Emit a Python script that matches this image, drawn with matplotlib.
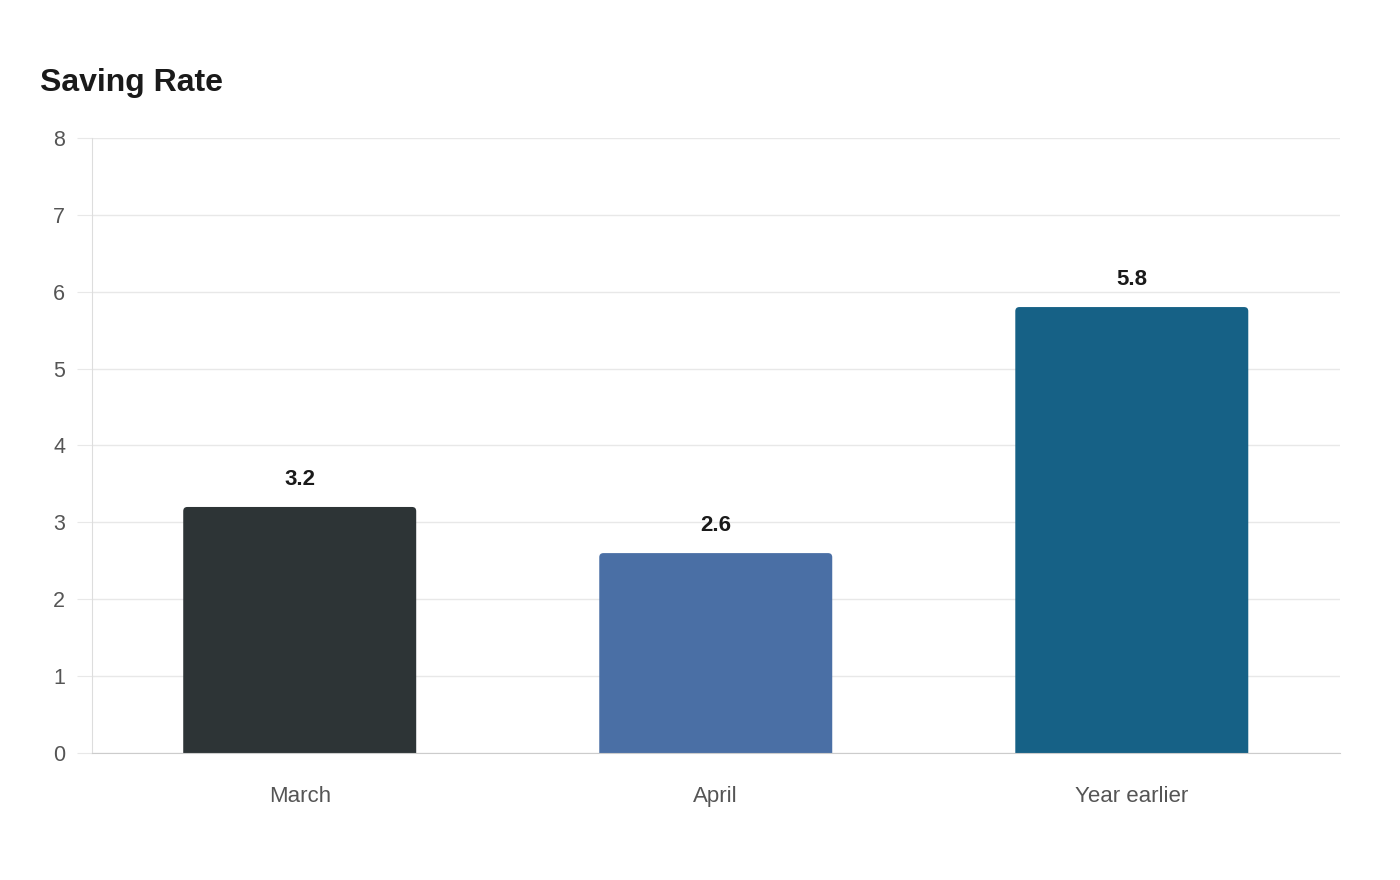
import matplotlib.pyplot as plt
from matplotlib.patches import FancyBboxPatch

plt.rcParams['font.family'] = ['Liberation Sans', 'DejaVu Sans']

categories = ['March', 'April', 'Year earlier']
values = [3.2, 2.6, 5.8]
colors = ['#2d3436', '#4a6fa5', '#166186']
yticks = [0, 1, 2, 3, 4, 5, 6, 7, 8]

fig = plt.figure(figsize=(14, 8.8), dpi=100)
ax = fig.add_axes([0.0655, 0.1443, 0.8915, 0.699])

x = range(len(categories))
bars = ax.bar(x, values, width=0.56, color=colors, zorder=3)
# swap square bars for ones with slightly rounded tops
for b in bars:
    b.set_visible(False)
    ext = 0.2  # push the bottom under the axis so only top corners show
    p = FancyBboxPatch((b.get_x(), b.get_y() - ext), b.get_width(), b.get_height() + ext,
                       boxstyle='round,pad=0,rounding_size=0.01', mutation_aspect=5.4,
                       facecolor=b.get_facecolor(), edgecolor='none', zorder=3)
    ax.add_patch(p)
for xi, v in zip(x, values):
    ax.annotate(f'{v:.1f}', (xi, v), xytext=(0, 20), textcoords='offset points',
                ha='center', va='center', fontsize=16, fontweight='bold', color='#1a1a1a')

ax.set_xlim(-0.5, len(categories) - 0.5)
ax.set_ylim(0, 8)
ax.set_yticks(yticks)
ax.set_xticks(list(x))
ax.set_xticklabels(categories)
ax.grid(axis='y', color='#e8e8e8', linewidth=1, zorder=0)
ax.tick_params(axis='y', length=11, color='#e8e8e8', pad=8, labelsize=15.5, labelcolor='#555555')
ax.tick_params(axis='x', length=0, pad=24, labelsize=16, labelcolor='#555555')
for s in ['top', 'right']:
    ax.spines[s].set_visible(False)
ax.spines['left'].set_color('#dddddd')
ax.spines['bottom'].set_color('#cccccc')
ax.spines['bottom'].set_zorder(4)

fig.text(0.0286, 0.906, 'Saving Rate', fontsize=23, fontweight='bold', color='#1a1a1a', va='center')

plt.savefig('out.png', dpi=100)
